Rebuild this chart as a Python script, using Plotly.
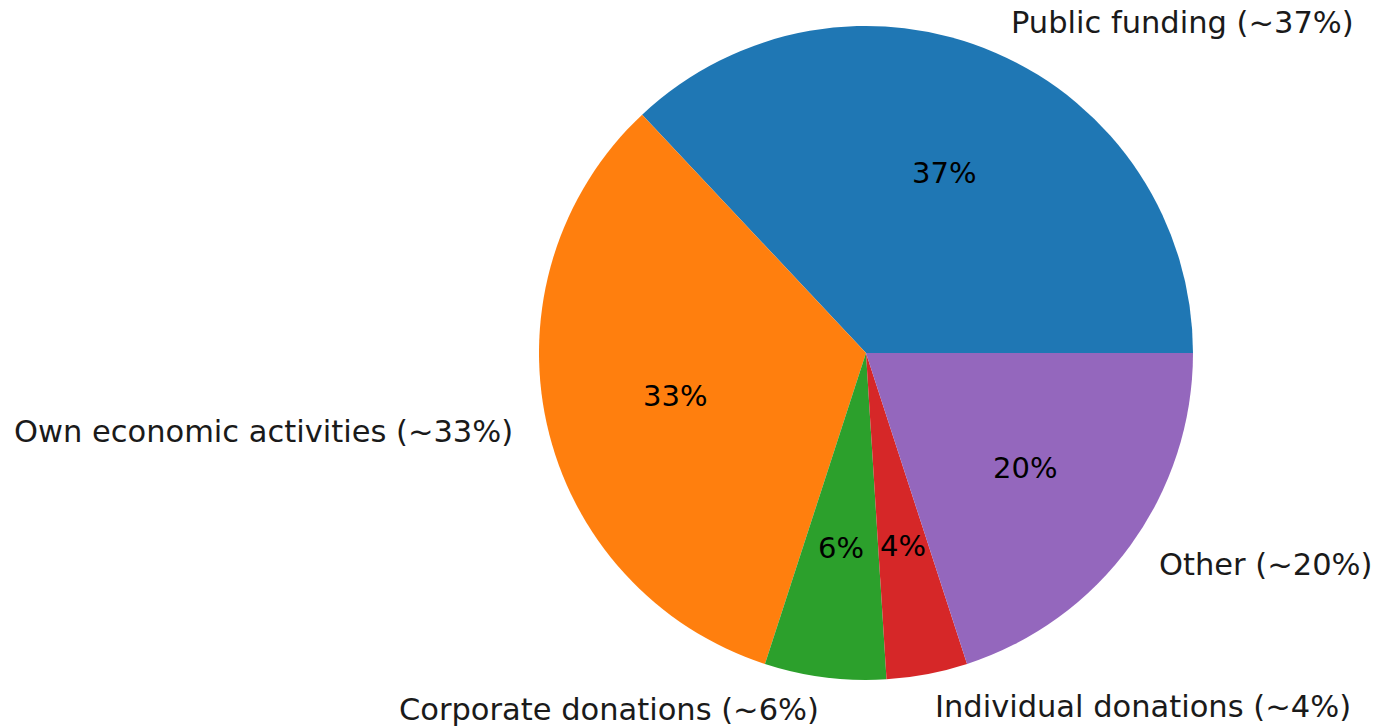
import numpy as np
import plotly.graph_objects as go

labels = [
    "Public funding (~37%)",
    "Own economic activities (~33%)",
    "Corporate donations (~6%)",
    "Individual donations (~4%)",
    "Other (~20%)",
]
values = [37, 33, 6, 4, 20]
colors = ["#1f77b4", "#ff7f0e", "#2ca02c", "#d62728", "#9467bd"]

W, H = 1375, 727
# pie centre and radius in pixels
CX, CY, R = 866, 353, 327
FONT = "DejaVu Sans"
LABEL_SIZE = 30.5
PCT_SIZE = 29

total = sum(values)

fig = go.Figure()
fig.add_trace(
    go.Pie(
        labels=labels,
        values=values,
        sort=False,
        direction="counterclockwise",
        # plotly puts the first slice clockwise of `rotation` when going
        # counterclockwise, so shift it to start at 3 o'clock like matplotlib
        rotation=90 - 360 * values[0] / total,
        marker=dict(colors=colors, line=dict(width=0)),
        textinfo="none",
        hoverinfo="label+percent",
        domain=dict(
            x=[(CX - R) / W, (CX + R) / W],
            y=[(H - CY - R) / H, (H - CY + R) / H],
        ),
        showlegend=False,
    )
)

# matplotlib-style labels: name at 1.1 r, percentage at 0.6 r
start = 0.0
annotations = []
for lab, v in zip(labels, values):
    frac = v / total
    mid = np.deg2rad(360 * (start + frac / 2))
    start += frac
    cx, cy = np.cos(mid), np.sin(mid)
    annotations.append(
        dict(
            x=(CX + 1.1 * R * cx) / W,
            y=(H - CY + 1.1 * R * cy) / H,
            xref="paper",
            yref="paper",
            text=lab,
            showarrow=False,
            xanchor="left" if cx > 0 else "right",
            yanchor="middle",
            font=dict(family=FONT, size=LABEL_SIZE, color="#1a1a1a"),
        )
    )
    annotations.append(
        dict(
            x=(CX + 0.6 * R * cx) / W,
            y=(H - CY + 0.6 * R * cy) / H,
            xref="paper",
            yref="paper",
            text=f"{round(100 * frac)}%",
            showarrow=False,
            xanchor="center",
            yanchor="middle",
            font=dict(family=FONT, size=PCT_SIZE, color="black"),
        )
    )

fig.update_layout(
    width=W,
    height=H,
    margin=dict(l=0, r=0, t=0, b=0),
    paper_bgcolor="white",
    plot_bgcolor="white",
    annotations=annotations,
)

fig.write_html(
    "out.html",
    config={"displayModeBar": False},
    post_script="document.body.style.margin='0';",
)
